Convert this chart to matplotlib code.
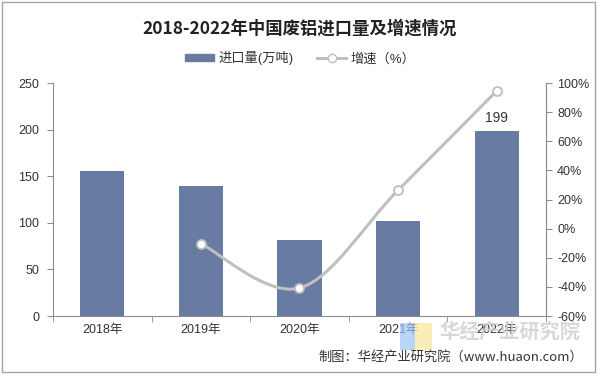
import numpy as np
import matplotlib
matplotlib.use('Agg')
from matplotlib import pyplot as plt
from matplotlib.path import Path
from matplotlib.patches import PathPatch, Rectangle
from matplotlib.lines import Line2D
from matplotlib.ticker import FuncFormatter

plt.rcParams['font.family'] = ['Liberation Sans', 'Noto Sans CJK SC']

years = ['2018年', '2019年', '2020年', '2021年', '2022年']
imports = [156, 140, 82, 102, 199]          # 万吨
growth_years = [1, 2, 3, 4]                 # index of years with growth values
growth = [-10.3, -40.8, 26.4, 94.6]         # %

bar_color = '#687BA2'
line_color = '#BFBFBF'
axis_color = '#8C8C8C'
text_color = '#333333'


def smooth_path(xs, ys):
    # Excel-style smoothed line: catmull-rom converted to cubic bezier
    pts = np.column_stack([xs, ys]).astype(float)
    verts = [pts[0]]
    codes = [Path.MOVETO]
    n = len(pts)
    for i in range(n - 1):
        p0 = pts[i - 1] if i > 0 else pts[i]
        p1 = pts[i]
        p2 = pts[i + 1]
        p3 = pts[i + 2] if i + 2 < n else pts[i + 1]
        c1 = p1 + (p2 - p0) / 6.0
        c2 = p2 - (p3 - p1) / 6.0
        verts += [c1, c2, p2]
        codes += [Path.CURVE4] * 3
    return Path(verts, codes)


fig = plt.figure(figsize=(6, 3.77), dpi=100)
fig.patches.append(Rectangle((0.004, 0.012), 0.988, 0.983, transform=fig.transFigure,
                             fill=False, edgecolor='#A6A6A6', linewidth=1))

ax = fig.add_axes([0.0883, 0.1618, 0.8217, 0.618])
x = np.arange(len(years))
bars = ax.bar(x, imports, width=0.45, color=bar_color, zorder=2)
ax.set_xlim(-0.5, len(years) - 0.5)
ax.set_ylim(0, 250)
ax.set_yticks(range(0, 251, 50))
ax.set_xticks(x)
ax.set_xticklabels(years)
ax.set_xticks(np.arange(-0.5, len(years), 1.0), minor=True)
ax.tick_params(axis='x', which='major', length=0, pad=6, labelsize=9, colors=text_color)
ax.tick_params(axis='x', which='minor', length=4, color=axis_color)
ax.tick_params(axis='y', length=4, color=axis_color, labelsize=9, labelcolor=text_color, pad=6)
ax.spines['top'].set_visible(False)
for s in ['left', 'bottom', 'right']:
    ax.spines[s].set_color(axis_color)

# data label on last bar
ax.text(x[-1], imports[-1] + 6, str(imports[-1]), ha='center', va='bottom',
        fontsize=10, color=text_color)

ax2 = ax.twinx()
ax2.set_ylim(-60, 100)
ax2.set_yticks(range(-60, 101, 20))
ax2.yaxis.set_major_formatter(FuncFormatter(lambda v, p: '%d%%' % v))
ax2.tick_params(axis='y', length=4, color=axis_color, labelsize=9, labelcolor=text_color, pad=4)
for s in ['top', 'left', 'bottom']:
    ax2.spines[s].set_visible(False)
ax2.spines['right'].set_color(axis_color)

path = smooth_path(growth_years, growth)
ax2.add_patch(PathPatch(path, facecolor='none', edgecolor=line_color, linewidth=2.2,
                        transform=ax2.transData, zorder=3, clip_on=False))
ax2.plot(growth_years, growth, linestyle='none', marker='o', markersize=6.5,
         markerfacecolor='white', markeredgecolor=line_color, markeredgewidth=1.3,
         zorder=4, clip_on=False)

# title and legend
fig.text(0.5, 0.925, '2018-2022年中国废铝进口量及增速情况', ha='center', va='center',
         fontsize=12.5, fontweight='bold', color='#222222', family=['Noto Sans CJK SC'])

handles = [
    Rectangle((0, 0), 1, 1, color=bar_color),
    Line2D([0], [0], color=line_color, linewidth=2.2, marker='o', markersize=6,
           markerfacecolor='white', markeredgecolor=line_color),
]
fig.legend(handles, ['进口量(万吨)', '增速（%）'], loc='center', bbox_to_anchor=(0.5, 0.845),
           ncol=2, frameon=False, fontsize=9.5, handlelength=2.2, handleheight=0.45,
           columnspacing=1.8, handletextpad=0.3, labelcolor=text_color)

# watermark + source
fig.patches.append(Rectangle((0.667, 0.072), 0.024, 0.072, transform=fig.transFigure,
                             facecolor='#9CC3F5', edgecolor='none', alpha=0.7, zorder=0))
fig.patches.append(Rectangle((0.692, 0.072), 0.028, 0.072, transform=fig.transFigure,
                             facecolor='#F8E9A6', edgecolor='none', alpha=0.8, zorder=0))
fig.text(0.85, 0.12, '华经产业研究院', ha='center', va='center', fontsize=14.5,
         fontweight='bold', color='#CFCFCF', alpha=0.8, zorder=0)
fig.text(0.972, 0.052, '制图：华经产业研究院（www.huaon.com）', ha='right', va='center',
         fontsize=9.5, color=text_color, family=['Noto Sans CJK SC', 'DejaVu Sans'])

fig.savefig('out.png', dpi=100)
